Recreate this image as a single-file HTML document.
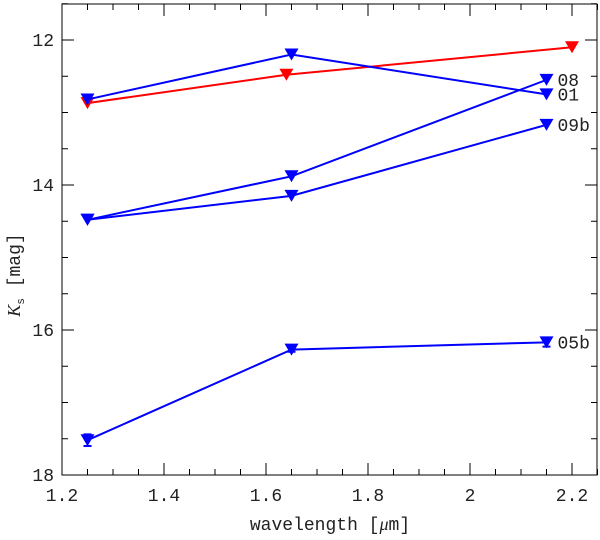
<!DOCTYPE html>
<html><head><meta charset="utf-8"><style>
html,body{margin:0;padding:0;background:#fff;}
svg{display:block;font-family:"Liberation Mono",monospace;}
</style></head><body>
<svg id="chart" width="600" height="540"></svg>
<script>
const xTicks=[1.2,1.4,1.6,1.8,2,2.2];
const xTickLabels=["1.2","1.4","1.6","1.8","2","2.2"];
const yTicks=[12,14,16,18];
const yTickLabels=["12","14","16","18"];
const seriesNames=["red","01","08","09b","05b"];
const seriesColors=["#ff0000","#0000ff","#0000ff","#0000ff","#0000ff"];
const xRed=[1.25,1.64,2.2];
const yRed=[12.87,12.48,12.1];
const x01=[1.25,1.65,2.15];
const y01=[12.82,12.2,12.75];
const x08=[1.25,1.65,2.15];
const y08=[14.48,13.88,12.55];
const x09b=[1.25,1.65,2.15];
const y09b=[14.48,14.15,13.17];
const x05b=[1.25,1.65,2.15];
const y05b=[17.52,16.27,16.17];
const err05b=[0.08,0.03,0.06];
const labels=["","01","08","09b","05b"];

const L=62,R=597,T=4,B=475;
const X=v=>L+(v-1.2)*510;
const Y=v=>B-(18-v)*72.5;
const svg=document.getElementById('chart');
const NS="http://www.w3.org/2000/svg";
function mk(t,a,p){const e=document.createElementNS(NS,t);for(const k in a)e.setAttribute(k,a[k]);(p||svg).appendChild(e);return e;}

const frame=mk('rect',{x:L,y:T,width:R-L,height:B-T,fill:'none',stroke:'#000','stroke-width':1});



for(let v=1.2;v<=2.251;v+=0.05){
  const major=Math.abs(v*5-Math.round(v*5))<1e-6;
  const len=major?12:6,x=X(v);
  const t1=mk('line',{x1:x,x2:x,y1:B,y2:B-len,stroke:'#000'});
  
  
  const t2=mk('line',{x1:x,x2:x,y1:T,y2:T+len,stroke:'#000'});
  
  
}
for(let v=11.5;v<=18.001;v+=0.5){
  const major=Math.abs(v/2-Math.round(v/2))<1e-6;
  const len=major?12:6,y=Y(v);
  const t1=mk('line',{x1:L,x2:L+len,y1:y,y2:y,stroke:'#000'});
  
  
  const t2=mk('line',{x1:R,x2:R-len,y1:y,y2:y,stroke:'#000'});
  
  
}
xTicks.forEach((v,i)=>{
  const t=mk('text',{x:X(v),y:B+26,'text-anchor':'middle','font-size':18,fill:'#222'});
  t.textContent=xTickLabels[i];
  
  
});
yTicks.forEach((v,i)=>{
  const t=mk('text',{x:L-8,y:Y(v)+6,'text-anchor':'end','font-size':18,fill:'#222'});
  t.textContent=yTickLabels[i];
  
  
});
const xt=mk('text',{x:330,y:530,'text-anchor':'middle','font-size':18,fill:'#222'});
xt.innerHTML='wavelength [<tspan font-family="Liberation Serif" font-style="italic">μ</tspan>m]';


const yt=mk('text',{transform:'translate(20,275) rotate(-90)','text-anchor':'middle','font-size':18,fill:'#222'});
yt.innerHTML='<tspan font-family="Liberation Serif" font-style="italic">K</tspan><tspan font-size="11" dy="4">s</tspan><tspan dy="-4"> [mag]</tspan>';



const xs=[xRed,x01,x08,x09b,x05b], ys=[yRed,y01,y08,y09b,y05b];
xs.forEach((xa,s)=>{
  const c=seriesColors[s];
  const pts=xa.map((v,i)=>X(v)+','+Y(ys[s][i])).join(' ');
  const pl=mk('polyline',{points:pts,fill:'none',stroke:c,'stroke-width':2});
  
  
  xa.forEach((v,i)=>{
    const x=X(v),y=Y(ys[s][i]);
    if(s===4){
      const e=err05b[i]*72.5;
      const eb=mk('path',{d:`M${x},${y-e}V${y+e}M${x-4},${y-e}H${x+4}M${x-4},${y+e}H${x+4}`,stroke:c,'stroke-width':2,fill:'none'});
      
      
    }
    const m=mk('polygon',{points:`${x-7},${y-6} ${x+7},${y-6} ${x},${y+6}`,fill:c});
    
    
  });
  if(labels[s]){
    const last=xa.length-1;
    const lt=mk('text',{x:X(xa[last])+11,y:Y(ys[s][last])+6,'font-size':18,fill:'#222'});
    lt.textContent=labels[s];
    
    
  }
});
</script>
</body></html>
